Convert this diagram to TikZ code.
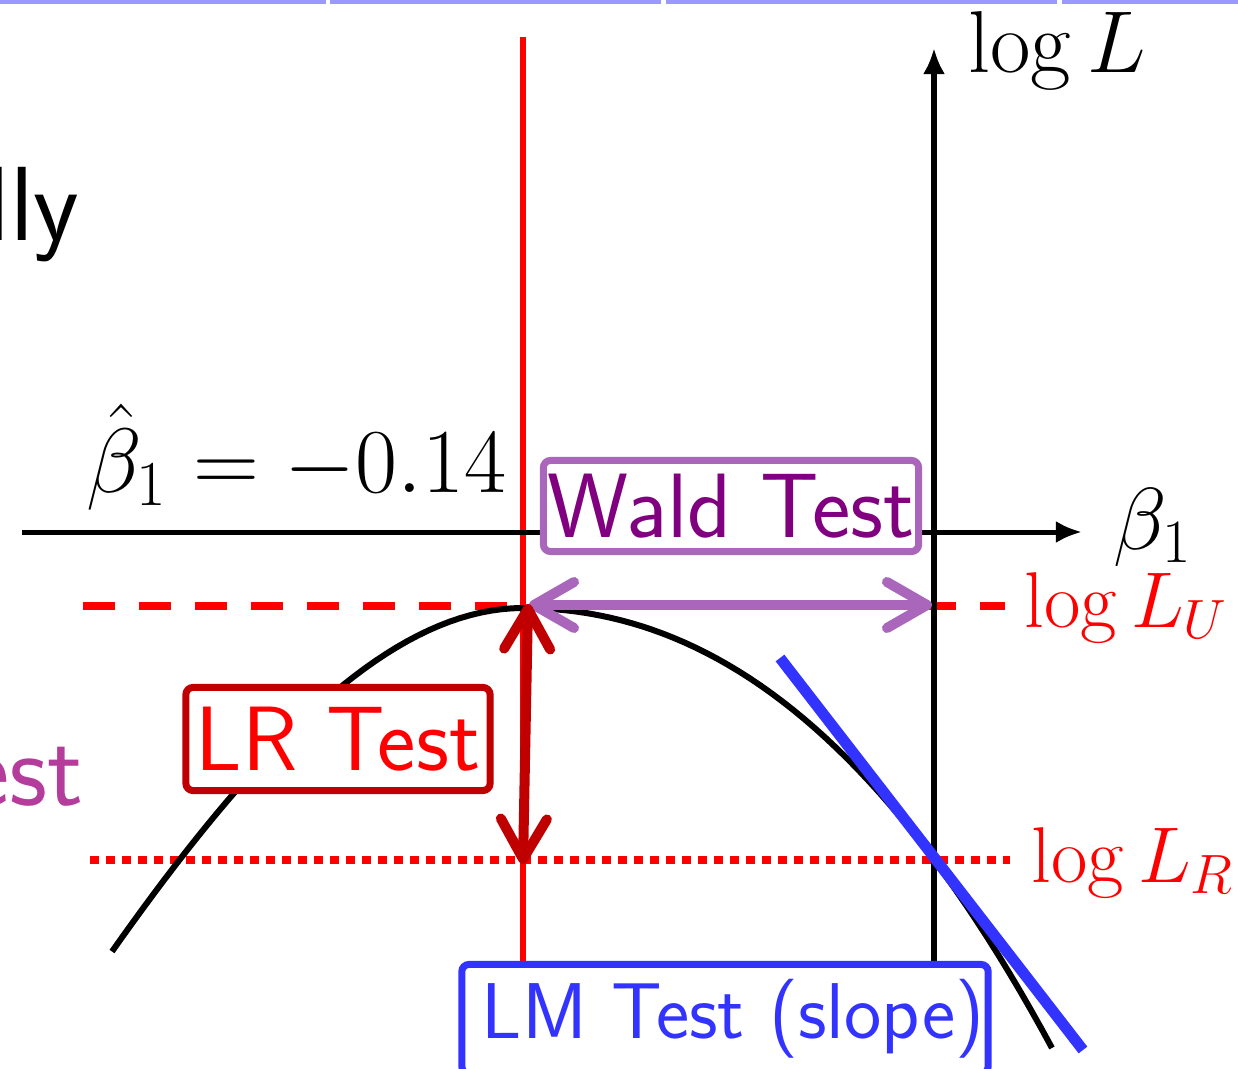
\RequirePackage{fix-cm}
\documentclass[tikz,border=0pt]{standalone}
\usepackage{amsmath}
\definecolor{navblue}{RGB}{153,153,255}
\definecolor{waldpurple}{RGB}{170,102,187}
\definecolor{waldtext}{RGB}{128,0,128}
\definecolor{lrdark}{RGB}{192,0,0}
\definecolor{lmblue}{RGB}{51,51,255}
\definecolor{estpurple}{RGB}{180,60,155}
\usetikzlibrary{arrows.meta,positioning}

\begin{document}
\begin{tikzpicture}[
  x=0.01cm,y=-0.01cm,
  testbox/.style={draw,rounded corners=2pt,fill=white,line width=0.07cm,inner sep=0pt,
    font=\sffamily\fontsize{26}{30}\selectfont},
  axis/.style={line width=0.05cm,-{Latex[length=0.26cm,width=0.22cm]}},
  twoway/.style={line width=0.1cm,
    {Straight Barb[round,length=0.4cm,width=0.46cm]}-{Straight Barb[round,length=0.4cm,width=0.46cm]}},
  mathlbl/.style={inner sep=0pt,anchor=base west,font=\fontsize{25}{30}\selectfont},
  levellbl/.style={mathlbl,text=red,font=\fontsize{22.5}{27}\selectfont}
]
  \useasboundingbox (0,0) rectangle (1238,1069);
  \clip (0,0) rectangle (1238,1069);
  % Navigation bar
  \fill[navblue] (0,0) rectangle (326,4);
  \fill[navblue] (330,0) rectangle (661,4);
  \fill[navblue] (666,0) rectangle (1057,4);
  \fill[navblue] (1062,0) rectangle (1238,4);
  % Slide text cut off at the left
  \node[inner sep=0pt,anchor=base east,font=\sffamily\fontsize{30}{36}\selectfont] (lly) at (80,240) {lly};
  \node[inner sep=0pt,anchor=base east,text=estpurple,font=\sffamily\fontsize{30}{36}\selectfont] (est) at (84,805) {est};
  % Levels
  \coordinate (du1) at (83,606);
  \coordinate (du2) at (1005,606);
  \coordinate (dr1) at (90,860);
  \coordinate (dr2) at (1010,860);
  \draw[red,line width=0.08cm,dash pattern=on 0.32cm off 0.24cm] (du1) -- (du2);
  \draw[red,line width=0.08cm,dash pattern=on 0.09cm off 0.07cm] (dr1) -- (dr2);
  \node[levellbl] (logLU) at (1024,627) {$\log L_U$};
  \node[levellbl] (logLR) at (1031,882) {$\log L_R$};
  % Estimate
  \coordinate (rt) at (523,37);
  \coordinate (rb) at (523,962);
  \draw[red,line width=0.05cm] (rt) -- (rb);
  \node[inner sep=0pt,anchor=base east,font=\fontsize{26}{31}\selectfont] (bhat) at (507,492) {$\hat{\beta}_1 = -0.14$};
  % Axes
  \coordinate (xl) at (22,532);
  \coordinate (xr) at (1082,532);
  \coordinate (yb) at (934,962);
  \coordinate (yt) at (934,48);
  \draw[axis] (xl) -- (xr);
  \draw[axis] (yb) -- (yt);
  \node[mathlbl] (logL) at (968,72) {$\log L$};
  \node[mathlbl] (beta) at (1113,549) {$\beta_1$};
  % Log likelihood
  \draw[line width=0.06cm]
    plot[domain=-4.11:0,samples=40,variable=\t] ({523+100*\t},{608+26.5*\t*\t+1.5*\t*\t*\t})
    -- plot[domain=0:5.29,samples=50,variable=\t] ({523+100*\t},{608+12.12*\t*\t+0.681*\t*\t*\t});
  % Slope at the restriction
  \coordinate (bt1) at (780,658);
  \coordinate (bt2) at (1083,1050);
  \draw[lmblue,line width=0.11cm] (bt1) -- (bt2);
  % Distances
  \coordinate (wl) at (529,605);
  \coordinate (wr) at (932,605);
  \draw[twoway,waldpurple] (wl) -- (wr);
  \coordinate (lt) at (528,604);
  \coordinate (lb) at (523,864);
  \draw[twoway,lrdark] (lt) -- (lb);
  % Test boxes
  \node[testbox,draw=waldpurple,text=waldtext,minimum width=3.75cm,minimum height=0.91cm] (wald) at (731,506) {Wald Test};
  \node[testbox,draw=lrdark,text=red,minimum width=3.04cm,minimum height=1.03cm] (lr) at (338,739) {LR Test};
  \node[testbox,draw=lmblue,text=lmblue,minimum width=5.26cm,minimum height=1.09cm,
    font=\sffamily\fontsize{22.5}{27}\selectfont] (lm) at (725,1019) {\hspace*{0.16cm}LM Test (slope)};
\end{tikzpicture}
\end{document}
